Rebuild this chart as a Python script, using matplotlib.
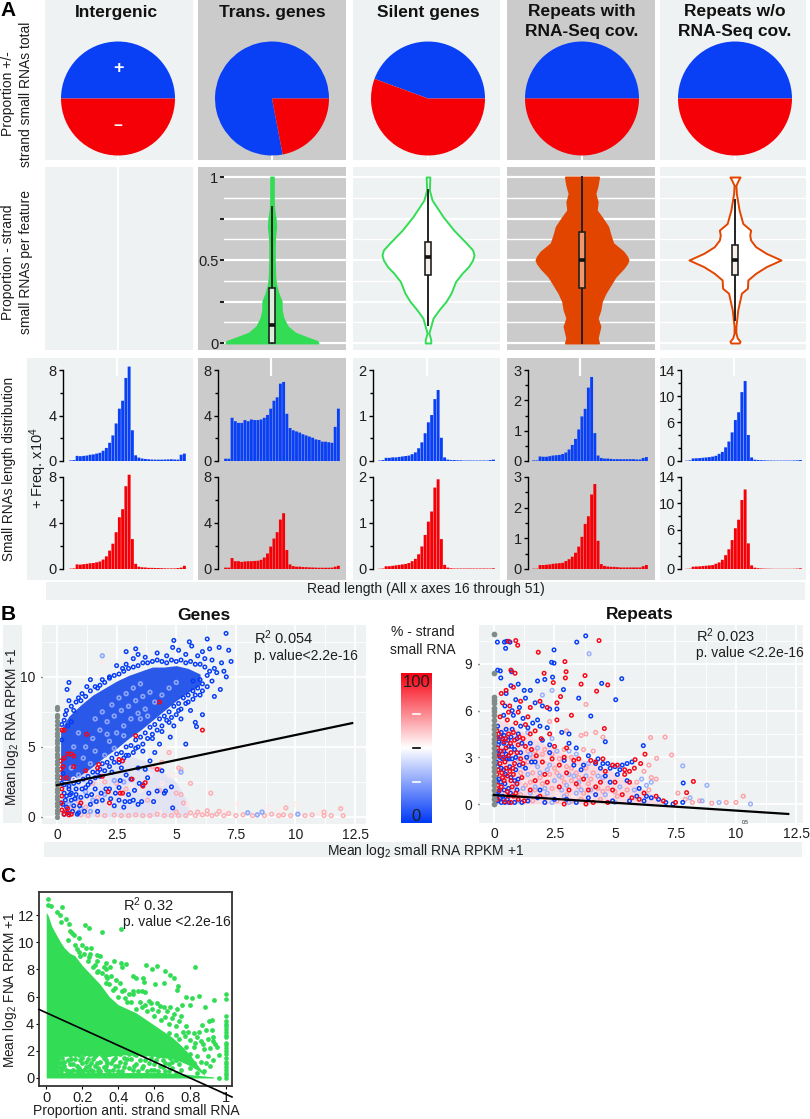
"""
Strand bias of small RNAs: pies, violins, length histograms and RPKM scatters.
All point values are read by eye from the published figure.
"""

import numpy as np
import matplotlib
matplotlib.use("Agg")
import matplotlib.pyplot as plt
from matplotlib.colors import LinearSegmentedColormap

plt.rcParams['font.family'] = ['Liberation Sans', 'DejaVu Sans']
plt.rcParams['mathtext.fontset'] = 'custom'
plt.rcParams['mathtext.rm'] = 'Liberation Sans'
plt.rcParams['mathtext.default'] = 'rm'

W, H = 810, 1119
BLUE, RED = '#0A40F5', '#F40006'
GREEN, ORANGE = '#33DC55', '#E24500'
LIGHT, GREY = '#EFF2F2', '#CBCBCB'
TXT = '#1E1E1E'

features = ['Intergenic', 'Trans. genes', 'Silent genes', 'Repeats with\nRNA-Seq cov.', 'Repeats w/o\nRNA-Seq cov.']
pie_blue = [0.5, 0.78, 0.444, 0.5, 0.5]
pie_red = [0.5, 0.22, 0.556, 0.5, 0.5]

violin_y = {
    1: [0, .01, .03, .06, .1, .15, .2, .25, .3, .35, .4, .5, .6, .65, .7, .75, .8, .85, .9, 1],
    2: [0, .02, .04, .06, .1, .15, .2, .25, .3, .37, .42, .46, .5, .53, .56, .6, .64, .68, .76, .86, .92, 1],
    3: [0, .03, .1, .15, .2, .25, .3, .35, .4, .45, .48, .5, .52, .55, .6, .65, .7, .75, .8, .85, .9, .95, 1],
    4: [0, .01, .03, .06, .1, .2, .3, .33, .38, .42, .46, .5, .54, .58, .62, .65, .68, .72, .8, .9, .95, .98, 1],
}
violin_w = {
    1: [1, .98, .78, .5, .33, .24, .2, .2, .13, .08, .06, .05, .05, .06, .08, .07, .04, .03, .03, .03],
    2: [.06, .06, .04, .02, .06, .11, .24, .39, .5, .6, .74, .88, .97, 1, .97, .84, .7, .56, .33, .09, .03, .04],
    3: [.36, .33, .39, .33, .39, .42, .5, .61, .72, .89, .97, 1, .97, .89, .67, .61, .56, .44, .31, .33, .28, .33, .36],
    4: [.09, .11, .05, .02, .02, .06, .14, .27, .28, .45, .68, 1, .68, .45, .34, .32, .34, .17, .09, .03, .02, .07, .11],
}
violin_box = {1: (0, .11, .33, 0, .82), 2: (.41, .52, .61, .11, .92), 3: (.33, .5, .67, 0, 1), 4: (.41, .5, .59, .14, .86)}

lengths = list(range(16, 52))
plus_freq = [
    [.05, .08, .45, .42, .45, .48, .55, .58, .65, .72, .9, 1.15, 1.6, 2.25, 3.3, 4.6, 5.3, 7.3, 8.3, 2.7, .5, .3, .22, .18, .15, .13, .12, .12, .12, .13, .14, .15, .13, .12, .55, .65],
    [.2, .2, 3.8, 3.5, 3.35, 3.35, 3.6, 3.5, 3.65, 3.6, 3.6, 3.65, 3.8, 4.05, 4.6, 5.3, 5.6, 6.8, 6.95, 4.15, 2.9, 2.7, 2.6, 2.5, 2.35, 2.25, 2.15, 2.05, 1.9, 1.85, 1.7, 1.7, 1.65, 1.6, 3.0, 4.6],
    [.01, .02, .07, .07, .08, .08, .09, .1, .11, .12, .15, .19, .28, .41, .61, .85, 1.01, 1.36, 1.56, .51, .08, .03, .02, .02, .015, .015, .01, .01, .01, .01, .01, .01, .01, .01, .02, .03],
    [.02, .02, .15, .14, .14, .16, .18, .19, .2, .23, .28, .38, .53, .73, 1.04, 1.47, 1.72, 2.42, 2.77, .92, .18, .1, .08, .08, .07, .06, .06, .06, .06, .06, .06, .06, .05, .05, .1, .13],
    [.05, .1, .4, .42, .45, .5, .55, .6, .68, .8, 1.1, 1.4, 2.1, 3.0, 4.4, 6.3, 7.5, 10.6, 12.3, 4.0, .55, .2, .15, .12, .1, .08, .07, .06, .06, .06, .06, .06, .06, .08, .1, .15],
]
minus_freq = [
    [.03, .05, .4, .38, .42, .45, .5, .52, .58, .65, .82, 1.1, 1.6, 2.2, 3.2, 4.5, 5.2, 7.2, 8.2, 2.6, .45, .2, .15, .13, .1, .1, .09, .08, .07, .06, .05, .05, .05, .08, .12, .28],
    [.12, .12, .95, .68, .68, .62, .66, .68, .68, .7, .72, .8, 1.0, 1.35, 1.95, 2.65, 3.2, 4.3, 4.85, 1.65, .4, .25, .2, .2, .17, .16, .14, .13, .12, .11, .11, .11, .11, .12, .2, .28],
    [.005, .01, .06, .06, .07, .08, .09, .1, .11, .13, .17, .22, .32, .49, .74, 1.03, 1.25, 1.77, 1.95, .65, .09, .03, .015, .01, .01, .01, .01, .01, .01, .01, .01, .01, .01, .01, .01, .015],
    [.01, .01, .13, .13, .14, .15, .17, .18, .19, .2, .26, .32, .4, .53, .73, 1.05, 1.47, 1.72, 2.43, 2.77, .92, .16, .1, .08, .07, .07, .06, .05, .05, .05, .05, .05, .05, .05, .09, .13],
    [.03, .05, .35, .38, .4, .45, .5, .55, .6, .8, 1, 1.4, 2.1, 3, 4.4, 6.2, 7.5, 10.5, 12.1, 3.9, .55, .2, .12, .08, .06, .05, .04, .03, .03, .03, .03, .03, .03, .04, .06, .1],
]
hist_max = [8, 8, 2, 3, 14]
hist_major = [[0, 4, 8], [0, 4, 8], [0, 1, 2], [0, 1, 2, 3], [0, 6, 10, 14]]
hist_minor = [[2, 6], [2, 6], [.5, 1.5], [.5, 1.5, 2.5], [2, 4, 8, 12]]

# Genes panel: outlines of the solid clouds, then single points by colour
genes_cloud_x = [.15, .5, 1, 1.5, 2, 2.5, 3, 3.5, 4, 4.5, 5, 5.5, 6]
genes_cloud_hi = [6.2, 7.2, 8, 8.7, 9.2, 9.7, 10.1, 10.4, 10.7, 10.7, 10.8, 10.6, 10.2]
genes_cloud_lo = [2.6, 2.6, 3.0, 3.6, 4.3, 4.9, 5.6, 6.2, 6.9, 7.6, 8.3, 8.9, 9.4]
genes_pale_x = [.15, 1, 2, 3, 4, 5, 5.5]
genes_pale_hi = [2.8, 3.2, 3.8, 4.4, 3.8, 2.5, 1]
genes_pale_lo = [0, 0, 0, 0, 0, 0, 0]
genes_grey_y = [0, .25, .5, .75, 1, 1.25, 1.5, 1.75, 2, 2.25, 2.5, 2.75, 3, 3.25, 3.5, 3.75, 4, 4.25, 4.5, 4.75, 5, 5.25, 5.5, 5.75, 6, 6.25, 6.6, 6.85, 7.1, 7.3, 7.7, 7.85]
genes_blue = [(7.09, 13.1), (6.3, 12.7), (5.55, 12.5), (4.9, 12.6), (3.3, 12), (2.9, 11.8), (7.2, 11.9), (7.3, 11.1), (6.8, 12.1), (6.4, 12), (6.1, 11.8), (5.65, 12.2), (4.85, 12.1), (4.2, 11.7), (7.1, 10), (6.6, 8.6), (6.85, 9.1), (.5, 9.6), (.42, 9.1), (.5, 8.3), (1.4, 9.8), (1.9, 9.8), (2.2, 10), (2.75, 10.6), (1.05, 8.8), (1.25, 9.3), (6.1, 7.3), (5.8, 6.75), (5.85, 6.45), (5.4, 5.2), (4.9, 6.5), (4.7, 6.75), (5.2, 7), (5.6, 7.6), (4.75, 5.7), (4.8, 2.15), (4.5, 1.7), (4.2, 1.85), (4.55, 1.85), (3.2, 1.2), (2.6, 1.2), (4.85, .65), (3.6, 2.3), (6.9, 11), (6.5, 11.2), (6.2, 11.3), (5.9, 11.5), (5.4, 11.6), (5.1, 11.9), (4.6, 11.5), (3.7, 11.4), (3.2, 11.3), (3.4, 11.6), (2.5, 10.8), (2.9, 10.9), (7, 10.4), (6.7, 10.3), (6.5, 9.7), (6.3, 9.3), (6.1, 9), (1.7, 9.2), (.9, 8.5), (.7, 7.6), (.35, 7.3), (1.8, 3.4), (2.3, 3.2), (2.7, 3.5), (2.9, 3), (3.1, 2.7), (3.4, 3.5), (3.7, 3.4), (3.9, 4), (4.1, 4.6), (4.3, 5.2), (4.4, 3.3), (3.8, 2.8), (2.2, 2), (2.6, 2.1), (3, 1.6), (1.9, 1.2), (1.4, .9), (1, 1.4), (.8, 2), (.6, 1.2), (.4, .7), (.3, 1.7), (.5, 2.2), (1.3, 2.3), (1.6, 2), (3.4, .9), (2.4, .8), (2.8, .7), (.9, .3), (1.7, .4), (.3, .2), (3.6, 4.7), (4, 5.6), (4.4, 6.1), (3.3, 4.9), (2.9, 4.4), (5.1, 7.6), (5.4, 8.1), (5.7, 8.4), (6, 8.7), (.2, 2.4), (.25, 3.1), (.18, 1), (.2, 5.5), (.45, 6.5), (.3, 6.9), (.6, 6.8),
              (.3, 2.3), (.5, 2), (.7, 2.4), (.9, 2.5), (1.1, 2.7), (1.3, 2.9), (1.5, 3.2), (1.7, 3.2), (1.9, 3.8), (2.1, 3.9), (2.3, 4.2), (2.5, 4.5), (2.7, 4.6), (2.9, 5), (3.1, 5.1), (3.3, 5.5), (3.5, 5.7), (3.7, 6), (3.9, 6.4), (4.1, 6.6), (4.3, 7), (4.5, 7.2), (4.7, 7.5), (4.9, 7.9), (5.1, 8.1), (5.3, 8.5), (5.5, 8.7), (5.7, 9), (5.9, 9.2), (6.1, 9.5),
              (.4, 1.5), (.6, 1.7), (.8, 1.6), (1.2, 2.1), (1.4, 2.5), (1.6, 2.8), (1.8, 2.9), (2, 3.3), (2.2, 3.6), (2.4, 3.9), (2.6, 3.9), (2.8, 4.2), (3, 4.4), (3.2, 4.6), (3.4, 5), (3.6, 5.2), (3.8, 5.6), (4, 5.9), (4.2, 6.2), (4.4, 6.5), (4.6, 6.9), (4.8, 7.1), (5, 7.3), (5.2, 7.7), (5.5, 8.2), (5.8, 8.7),
              (.2, 6.6), (.4, 7.6), (.6, 7.9), (.8, 8.2), (1, 8.3), (1.2, 8.6), (1.4, 9), (1.6, 9.3), (1.8, 9.4), (2, 9.6), (2.2, 9.9), (2.4, 10.1), (2.6, 10.2), (2.8, 10.4), (3, 10.6), (3.2, 10.7), (3.4, 10.8), (3.6, 11), (3.8, 11), (4, 11.1), (4.2, 11.2), (4.4, 11.1), (4.6, 11), (4.8, 11.2), (5, 11.1), (5.2, 11.2), (5.4, 11), (5.6, 11.1), (5.8, 10.9), (6, 10.9), (6.2, 10.7), (6.4, 10.4), (6.6, 10.6), (6.3, 10.1), (6, 9.8), (5.7, 9.7),
              (.25, .9), (.35, 1.2), (.55, 1.6), (.7, .8), (.95, .8), (1.15, .4), (1.25, 1.5), (1.45, 1.6), (1.65, 1.1), (1.85, 1.7), (2.05, 2), (2.25, 1.3), (2.45, 1.7), (2.65, 2.6), (2.85, 1.1), (3.05, 1.1), (3.25, 1.9), (3.45, 2.4), (3.55, 1.1), (3.85, 1.7), (4.05, 1.1), (1.05, 2), (.75, 1.3), (.45, .3), (.65, .4), (.85, .2)]
genes_lblue = [(1.9, 11.5), (1.2, 5), (1.5, 5.6), (1.8, 6.2), (2.1, 6.8), (2.4, 7.2), (2.7, 7.6), (3, 7.9), (3.3, 8.3), (3.6, 8.6), (3.9, 8.9), (2.2, 5.4), (2.5, 6), (2.8, 6.5), (3.1, 7), (3.4, 7.4), (3.7, 7.7), (1.6, 7), (1.9, 7.5), (2.3, 8), (2.6, 8.5), (2.9, 8.8), (3.2, 9.2), (3.5, 9.5), (4.1, 8.2), (4.4, 8.7), (4.7, 9.2), (5, 9.6), (.9, 6), (.7, 5), (1.1, 4.2), (1.4, 3.8), (.6, 3.5), (.9, 3), (1.6, 4.7), (2, 4.4), (2.4, 4.9), (.8, 1.3), (1.2, 1.8), (1.5, 1.2), (2, 1.6), (2.4, 2.6), (2.8, 2.5), (.5, .9), (1, .6), (1.4, .4), (5.2, 3.2), (8, .3), (8.6, .35), (10.1, .2), (8.4, .15), (3.5, 7), (3.8, 7.2), (2.8, 5.8), (2.1, 5.9)]
genes_white = [(1.9, 11.05), (4.5, 4.9), (4.7, 4.5), (3.9, 3), (3.5, 1.9), (3.1, 2.2), (2.7, 1.4), (4.4, 2.4), (4.7, 3), (5, 3), (1.1, 2.2), (1.4, 2.7), (1.8, 2.6), (.7, 2.7), (.9, 1.9), (1.3, 1.2), (1.7, .8), (2.2, .9), (8.8, .7), (10, .9), (7.6, .9), (5.5, .9), (4.3, .3), (6, .2), (7, .4), (9.3, .5), (11, .3)]
genes_red = [(6.1, 6.2), (.2, 6.2), (.3, 6.2), (4.3, 8.2), (.45, 4.5), (.6, 4.5), (.7, 4.35), (.3, 4.2), (1.25, 5.9), (2.6, 4.1), (2.75, 4), (.25, 3.6), (.4, 2.8), (.7, 3.6), (1.2, 3.3), (1.75, 3.75), (1.7, 3.5), (3.3, 5.8), (3.15, 2.7), (3.7, 2.45), (3.6, 2.2), (2.75, 1.7), (2.15, 1.8), (2.65, 1.7), (4.2, 3.4), (.15, 3.4), (.15, 2.8), (.2, 2), (.2, 1.5), (.18, 1), (.2, .5), (.3, .2), (.4, .4), (.5, .15), (.45, .6), (.6, .2), (.15, 4), (1.9, 2.9), (1, 1), (2.2, 1)]
genes_pink = [(4.4, 3.9), (4.7, 4.6), (5.6, 2.4), (5, 1.7), (5.2, 1.6), (5.3, 1), (6.45, 1.7), (4.3, 1.9), (3.8, 1.2), (4, 3.6), (4.3, 3.4), (5.1, 3.5), (5.2, 3.4), (2, 2.5), (2.5, 2.4), (2.9, 2), (1.5, 2.4), (.9, 1.1), (1.2, .7), (1.7, 1.4), (.7, .6), (1, .15), (1.3, .1), (1.7, .15), (2, .1), (2.4, .15), (2.7, .1), (3, .1), (3.3, .15), (3.6, .1), (3.9, .1), (4.2, .2), (4.5, .1), (4.8, .1), (5, .35), (5.1, .1), (5.4, .1), (5.6, .3), (5.8, .1), (5.9, .35), (6.1, .15), (6.3, .2), (6.3, .45), (6.5, .1), (6.7, .2), (6.8, .4), (7, .1), (7.2, .25), (7.5, .1), (7.8, .15), (8.2, .1), (8.7, .1), (9, .2), (9.3, .1), (9.6, .65), (9.5, .15), (9.8, .1), (10.4, .1), (10.7, .15), (11.2, .1), (11.2, .35), (11.9, .6), (11.5, .1), (12, .1)]
genes_line_x = [0, 12.38]
genes_line_y = [2.27, 6.7]

# Repeats panel
rep_cloud_x = [.1, .5, 1, 2, 3, 4, 5, 5.5, 6, 6.5, 7]
rep_cloud_hi = [5.4, 5.3, 4.8, 3.9, 3.2, 2.7, 2, 1.6, 1.1, .7, .2]
rep_cloud_lo = [0, 0, 0, 0, 0, 0, 0, 0, 0, 0, 0]
rep_grey_y = [0, .3, .6, .9, 1.2, 1.5, 1.8, 2.1, 2.4, 2.7, 3, 3.3, 3.6, 3.9, 4.2, 4.5, 4.8, 5.1, 5.4, 5.7, 6, 6.2, 6.5, 6.7, 6.9, 8.4, 10.95]
rep_blue = [(.14, 10.4), (.43, 10.4), (.52, 10.45), (.66, 10.4), (.48, 10), (3.42, 10.4), (3.79, 10.8), (2.48, 9.9), (2.38, 9.1), (2.48, 9.05), (.15, 8.6), (.26, 8.55), (.28, 8.1), (.73, 8.5), (5.28, 8.05), (4.45, 7.75), (5.03, 6.7), (1.8, 7.9), (2.1, 8), (2.42, 8.15), (2.87, 7.35), (3.5, 6.8), (4, 5.65), (4.6, 4), (6.17, 3.75), (7.82, 1.35), (.5, 7.1), (.7, 7.6), (1, 7.7), (1.25, 7.3), (1.5, 7.3), (.9, 6.7), (1.3, 6.8), (1.7, 6.5), (2, 6.3), (2.3, 6.1), (2.6, 6.1), (.4, 5.7), (.8, 5.7), (1.2, 5.5), (1.6, 5.2), (1.9, 5), (2.2, 4.9), (2.8, 4.6), (3.1, 4.5), (.15, 5), (.3, 4.6), (.5, 4.8), (.7, 4.3), (1, 4.5), (.2, 4), (.4, 3.9), (.6, 3.7), (.85, 3.5), (1.1, 3.3), (.2, 3.2), (.35, 2.9), (.5, 3.2), (.75, 2.9), (.15, 2.4), (.4, 2.2), (.65, 2.4), (.9, 2.2), (.2, 1.6), (.45, 1.3), (.7, 1.7), (1, 1.6), (1.3, 2.3), (.2, .8), (.35, .5), (.55, .3), (.15, .2), (.3, .1), (.45, .1), (.6, 1), (2.3, 3.3), (2.9, 2.8), (3.3, 2.5), (3.6, 2.2), (3.7, 2.5), (3.9, 3.1), (4.3, 2.9), (4.5, 2.6), (4.7, 2.6), (4.4, 2.3), (4.8, 2.3), (5, 2.4), (5.2, 2.2), (5.3, 2.5), (5.5, 2.6), (5.7, 2.7), (5.1, 1.9), (4.8, 1.4), (5.5, 1.5), (6, 1), (6.3, .5), (6.5, .4), (7.1, .1), (7.4, 0), (2.5, .3), (3.4, .1), (1.8, .4), (4.2, .6), (5.6, .2), (7.8, .1), (1.5, 3.9), (1.7, 2.7),
            (.1, 4.3), (.18, 3.8), (.28, 4.3), (.42, 4.4), (.58, 4.1), (.75, 4.8), (.95, 4.2), (.12, 3.3), (.25, 3), (.4, 3.4), (.55, 2.9), (.72, 3.7), (.9, 3), (1.05, 2.5), (.1, 2.7), (.3, 2.3), (.48, 1.9), (.62, 2.9), (.85, 1.5), (.1, 1.5), (.28, 1.4), (.42, .9), (.68, .7), (.95, .9), (.12, .6), (.25, .4), (.4, .3), (.62, .1), (.85, .1), (1.15, .1), (1.4, .2), (1.15, 3.9), (1.35, 3), (1.55, 2.7), (1.4, 4.9), (1.8, 5.4), (1.1, 5), (2, 4.1), (2.3, 3.8), (1.9, .9), (2.1, .1), (3, .3), (3.9, .4), (4.9, .2), (5.9, .5), (6.2, .2), (6.8, .3), (4.6, 1.8), (4.2, 2.6), (3.4, 3.6), (3.1, 3.9), (1.05, 6.2), (.75, 6), (.45, 6.3)]
rep_red = [(.6, 10.45), (.9, 10.5), (.98, 10.2), (1.83, 9.75), (2.93, 9.15), (4.34, 10.5), (2.07, 8.4), (2.45, 7.8), (2.98, 8.5), (2.95, 8.1), (3.76, 8.25), (3.6, 7.7), (4.24, 7.25), (4.7, 7.65), (.7, 8.6), (.87, 8.4), (.8, 7.5), (3.2, 5.7), (4.56, 4.85), (6.24, 3.2), (5.83, 2.85), (6.06, 2.6), (8.24, 1.45), (7.96, .73), (.5, 7.3), (.3, 7.1), (.35, 6.5), (.65, 6.3), (1.1, 6.6), (1.5, 6.2), (1.9, 6.6), (2.2, 6.2), (2.6, 6.5), (2.75, 6.9), (.25, 5.6), (.55, 5.4), (.9, 5.2), (1.3, 5.1), (1.7, 4.7), (2.6, 5.4), (.12, 4.7), (.35, 4.2), (.6, 4.5), (.85, 4.1), (1.2, 4.2), (1.5, 4.5), (.15, 3.6), (.3, 3.4), (.5, 3.6), (.7, 3.3), (1, 3.8), (.25, 2.6), (.45, 2.7), (.65, 2.1), (.85, 2.6), (1.2, 2.6), (.12, 1.9), (.35, 1.7), (.55, 1.8), (.8, 1.9), (.15, 1.2), (.3, 1.1), (.55, .8), (.8, .5), (1, .3), (3.5, 2.9), (4, 2.8), (4.2, 2.7), (4.5, 2.9), (4.9, 2.5), (5.1, 2.5), (5.6, 2.1), (5.8, 2.3), (5.4, 1.9), (5.6, 1.4), (5, 1.4), (4.4, 1.4), (4.9, .9), (5.3, .6), (5.7, .4), (6, .3), (6.2, .7), (6.7, .5), (7, .2), (7.5, .1), (2.9, 0), (3.8, 0), (4.7, .1), (2.1, 1.9), (2.7, 2.5), (3, 2), (1.7, 1.5), (1.9, .5), (3.7, 1.6),
           (.1, 4.2), (.2, 4.5), (.42, 4), (.5, 4.2), (.68, 3.9), (.8, 4.6), (1.05, 4.3), (.18, 3.1), (.38, 3), (.6, 3.1), (.78, 2.3), (.95, 3.3), (1.1, 2.9), (.18, 2.2), (.32, 2), (.5, 2.3), (.7, 1.5), (.95, 1.3), (1.15, 1.7), (.22, .9), (.42, 1.5), (.6, .5), (.75, 1.1), (.9, .7), (.15, .3), (.45, .15), (.7, .1), (1.25, .2), (1.3, 3.7), (1.55, 3.5), (1.75, 3.1), (1.4, 5.6), (1, 5.9), (.6, 5.9), (1.95, 4.2), (2.3, 4.5), (2.5, 3.7), (3, 3.6), (2.9, 3), (3.3, 2.8), (2.4, 2.9), (2, 2.7), (2.2, 1.4), (1.5, .9), (2.7, 1.1), (3.4, 1.3), (3.1, .9), (3.9, .9), (4.2, 1.1), (4.6, 2.1), (5.4, 2.2), (4.1, .1)]
rep_lblue = [(7.8, 2.45), (8.8, 1.2), (3.93, 9.65), (8.1, .4), (8.6, .2), (9.3, .1), (10.6, 0), (2.4, 7.3), (2, 7), (1.4, 4.6), (1.8, 3.6), (2.4, 4.2), (2.6, 3.4), (3.1, 3.4), (3.4, 3.2), (1, 2.9), (1.4, 1.9), (1.8, 2.4), (2.2, 2.2), (2.5, 1.5), (3, 1.2), (3.3, 1.8), (3.8, 1.8), (4, .9), (4.3, 1.8), (1.2, 1), (1.5, .7), (2.2, .7), (2.8, .9), (3.4, .7), (4.6, .6), (6.1, 1.6), (6.5, 1.4), (.9, 1.2),
             (1.2, 2.4), (1.5, 3.2), (1.9, 2), (2.3, 2.5), (2.7, 1.8), (3.1, 1.9), (3.5, 1.4), (3.9, 2.6), (1.7, 1.1), (2.1, 1), (2.9, .5), (3.6, .9), (4.5, 1.7), (5.2, 1.1), (5.8, .9), (6.3, 1.2), (1, .2), (2.4, .1), (3.1, .1), (5, .1)]
rep_pink = [(3.8, 6.4), (7.07, 4.3), (7.34, 3.15), (6.72, 2.93), (6.47, 4.27), (4.2, 4.6), (3.6, 4.4), (3.8, 4.5), (4.5, 4.3), (3, 4.7), (2.3, 5.3), (3.7, 3.5), (4.1, 3.4), (3.2, 3), (2.9, 3.5), (2, 3.2), (1.6, 3), (1.4, 3.4), (1.1, 2), (1.5, 1.4), (2, 1.3), (2.5, 2.3), (2.8, 1.7), (3.2, 1.5), (3.5, 1.1), (3.9, 1.3), (4.1, 2), (4.7, 1), (1.3, .4), (1.7, .9), (2.4, 1), (3, .6), (3.6, .3), (4.4, .3), (5.1, .5), (6.7, 1.6), (6.4, 2.5), (6.5, 1.7), (6.2, 2.1), (7.6, .7), (8.5, .2), (9, .05), (9.6, .1), (10, .1), (10.3, .5), (7.9, .3), (8.2, .1),
            (1.3, 1.2), (1.6, 2), (1.9, 1.7), (2.3, 1.9), (2.6, 2), (2.9, 1.4), (3.2, 2.3), (3.5, 1.7), (3.8, 2.3), (4, 1.6), (1.4, 2.7), (1.7, 3.4), (2.1, 3.5), (2.4, 3.2), (2.7, 2.9), (3, 2.4), (3.4, 2), (1.1, .6), (1.6, .2), (2.1, .4), (2.6, .2), (3.2, .2), (3.7, .7), (4.3, 1), (4.5, .8), (5, .8), (5.5, .9), (5.9, 1.4), (6.4, .9)]
rep_white = [(.12, 2.5), (.8, 3), (1.6, 2.2), (2.2, 2.9), (2.6, 2.8), (3.4, 2.3), (3, 2.6), (2.2, 1.7), (2.6, .6), (1.3, 1.4), (3.3, .4), (4, .4), (4.8, .5)]
rep_line_x = [0, 12.16]
rep_line_y = [.58, -.64]

# Panel C: solid part of the cloud, then single points
c_cloud_x = [0, .01, .03, .05, .08, .1, .13, .16, .2, .25, .3, .35, .4, .5, .6, .7, .75, .8, .85, .88]
c_cloud_hi = [12.2, 12, 11.2, 10.7, 10, 9.6, 9.2, 9, 8.3, 7.6, 6.9, 6, 5.4, 4.8, 3.9, 3, 2.4, 1.7, .8, .3]
c_cloud_lo = [0, 0, 0, 0, 1.6, 1.6, 1.7, 1.6, 1.7, 1.6, 1.7, 1.6, 1.7, 1.7, 1.6, 1.4, 1.2, .9, .5, .2]
c_strip_x = [.05, .65, .7, .8, .88, .93]
c_strip_hi = [.4, .4, .35, .25, .15, .08]
c_strip_lo = [0, 0, 0, 0, 0, 0]
c_points = [(.01, 13.2), (.01, 12.75), (.025, 12.65), (.09, 12.6), (.06, 12.25), (.075, 12), (.11, 11.7), (.085, 11.5), (.125, 11.35), (.215, 11.25), (.24, 11.05), (.31, 10.75), (.415, 11), (.13, 10.8), (.145, 10.7), (.185, 10.3), (.155, 10.5), (.22, 9.6), (.25, 9.6), (.285, 9.05), (.3, 9), (.245, 9.1), (.375, 8.6), (.335, 8.5), (.415, 8.5), (.445, 8.4), (.555, 8.35), (.615, 8.25), (.825, 8.2), (.42, 8.15), (.355, 8.2), (.59, 8), (.66, 7.9), (.69, 7.55), (.71, 7.35), (.485, 7.5), (.5, 7.35), (.54, 7.35), (.545, 7.1), (.605, 6.95), (.655, 7), (.735, 6.8), (.73, 6.5), (.485, 6.4), (.51, 6.4), (.53, 6.4), (.55, 6.3), (.43, 6.45), (.775, 6), (.81, 5.9), (.85, 6.05), (.935, 5.75), (.8, 5.4), (.885, 5.2), (.755, 5.35), (.615, 5.5), (.655, 5.25), (.58, 5.5), (.69, 5.25), (.73, 5.1), (.92, 4.3), (.905, 4.2), (.865, 3.9), (.96, 0), (.95, 2.3), (.96, 1.7), (.93, 2.7), (.89, 3.5), (.92, 3.5), (.93, 3), (.84, 3), (.86, 2.7), (.8, 2.8), (.82, 2.3), (.78, 2.3), (.8, 1.8), (.84, 1.6), (.88, 2.1), (.9, 1.6), (.93, 1.35), (.76, 3.4), (.78, 3.8), (.72, 3.8), (.68, 4), (.64, 4.3), (.6, 4.6), (.56, 4.9), (.5, 5.1), (.45, 5.6), (.4, 6), (.38, 6.6), (.33, 7), (.33, 7.5), (.33, 8), (.28, 7.8), (.27, 8.3), (.23, 8.6), (.19, 9), (.17, 9.5), (.2, 9.8), (.72, 3.2), (.74, 2.9), (.68, 3.3), (.7, 1.2), (.74, 1), (.8, .7), (.84, .4), (.88, .5),
            (.07, .8), (.07, 1.2), (.08, .5), (.09, 1.5), (.1, .9), (.11, .6), (.12, 1.3), (.13, 1.7), (.14, .5), (.15, 1), (.16, 1.4), (.18, .7), (.18, 1.7), (.2, .5), (.2, 1.1), (.2, 1.5), (.22, .8), (.23, 1.4), (.24, 1.8), (.25, .6), (.25, 1.1), (.27, .9), (.27, 1.6), (.29, .5), (.3, 1.2), (.31, 1.7), (.33, .6), (.33, .9), (.33, 1.3), (.33, 1.7), (.35, .5), (.36, 1.1), (.38, .9), (.38, 1.5), (.4, .5), (.41, 1.2), (.41, 1.8), (.43, .8), (.45, 1.4), (.46, 1.8), (.48, .6), (.5, 1), (.5, 1.7), (.53, .7), (.55, 1.3), (.55, 1.8), (.58, .6), (.58, 1.5), (.6, 1), (.62, .5), (.62, 1.6), (.65, .8), (.65, 1.3), (.68, .5), (.68, 1),
            (.06, 1.7), (.06, .5), (.08, 1.1), (.09, .7), (.1, 1.2), (.11, 1.8), (.12, .5), (.13, 1), (.14, 1.4), (.15, .6), (.16, 1.8), (.17, .9), (.17, .5), (.19, 1.3), (.19, .5), (.21, 1.8), (.21, .6), (.22, 1.2), (.23, .5), (.24, .9), (.26, 1.4), (.26, .5), (.28, 1.1), (.28, 1.8), (.29, .7), (.3, .5), (.32, .8), (.32, 1.5), (.34, 1.1), (.35, 1.8), (.37, .6), (.37, 1.3), (.39, 1.8), (.4, .9), (.42, .5), (.43, 1.5), (.44, 1.1), (.46, .7), (.47, 1.4), (.49, .9), (.49, 1.8), (.51, .5), (.52, 1.3), (.53, 1.8), (.54, .9), (.56, .5), (.57, 1.1), (.59, 1.8), (.6, .6), (.61, 1.3), (.63, .9), (.64, 1.7), (.66, .5), (.66, 1.1), (.69, 1.5), (.7, .7), (.72, .4), (.72, 1.3), (.75, .6),
            (.12, 10.2), (.16, 9.8), (.18, 9.3), (.21, 9.1), (.24, 8.9), (.26, 8.2), (.28, 8.6), (.29, 7.9), (.31, 7.7), (.32, 8.2), (.34, 7.4), (.35, 6.9), (.36, 7.5), (.37, 6.5), (.39, 7.2), (.41, 7), (.42, 6.4), (.44, 5.9), (.46, 6.2), (.47, 5.6), (.48, 6.2), (.52, 5.6), (.53, 5.2), (.55, 5.4), (.57, 5.7), (.59, 5.1), (.62, 4.9), (.63, 5.3), (.66, 4.5), (.67, 4.9), (.7, 4.4), (.71, 4.7), (.74, 4.2), (.75, 4.6), (.77, 3.1), (.79, 3.4), (.82, 3.3), (.83, 2.6), (.85, 3.4), (.87, 2.5), (.9, 2.9), (.91, 2.2), (.94, 2.5), (.86, 1.2), (.89, 1.1), (.91, .9), (.82, 1.1)]
c_one_y = [0, .2, .4, .6, .8, 1, 1.2, 1.5, 1.8, 2, 2.2, 2.4, 2.6, 3, 3.2, 3.4, 3.6, 3.8, 4, 4.2, 4.6, 5.85, 6.2]
c_line_x = [-.04, 1.033]
c_line_y = [5.05, -1.4]

pct_cmap = LinearSegmentedColormap.from_list('pct', ['#0038F8', '#FFFFFF', '#F80010'])


def px_axes(x0, y0, x1, y1, **kw):
    return fig.add_axes([x0 / W, 1 - y1 / H, (x1 - x0) / W, (y1 - y0) / H], **kw)


def box(x0, y0, x1, y1, color):
    ax = px_axes(x0, y0, x1, y1, facecolor=color)
    ax.set_xticks([])
    ax.set_yticks([])
    for s in ax.spines.values():
        s.set_visible(False)
    return ax


def label(x, y, s, **kw):
    kw.setdefault('ha', 'center')
    kw.setdefault('va', 'center')
    kw.setdefault('color', TXT)
    kw.setdefault('fontsize', 10)
    fig.text(x / W, 1 - y / H, s, **kw)


def rings(ax, pts, pct, s=6.5, lw=1.05, z=3):
    x, y = np.array(pts).T
    ax.scatter(x, y, s=s, facecolors='none', edgecolors=pct_cmap(pct / 100), linewidths=lw, zorder=z)


def scatter_axes(x0, y0, x1, y1, xlim, ylim, ymajor, yminor):
    ax = px_axes(x0, y0, x1, y1, facecolor=LIGHT)
    ax.set_xlim(xlim)
    ax.set_ylim(ylim)
    ax.set_xticks([0, 2.5, 5, 7.5, 10, 12.5], ['0', '2.5', '5', '7.5', '10', '12.5'])
    ax.set_xticks([1.25, 3.75, 6.25, 8.75, 11.25], minor=True)
    ax.set_yticks(ymajor, [str(v) for v in ymajor])
    ax.set_yticks(yminor, minor=True)
    ax.grid(True, which='major', color='white', lw=1.3)
    ax.grid(True, which='minor', color='white', lw=.6)
    ax.set_axisbelow(True)
    ax.tick_params(which='both', length=0)
    ax.tick_params(which='major', axis='x', labelsize=10, colors=TXT, pad=3)
    ax.tick_params(which='major', axis='y', labelsize=10, colors=TXT, pad=4, length=1, width=1)
    for s in ax.spines.values():
        s.set_visible(False)
    return ax


fig = plt.figure(figsize=(W / 100, H / 100), dpi=100, facecolor='white')

col_x = [(45, 193), (198, 346), (353, 500), (507, 655), (660, 806)]
col_bg = [LIGHT, GREY, LIGHT, GREY, LIGHT]
col_cx = [118, 272, 428, 582, 735]
hist_axis_x = [63, 218, 373, 528, 681]
hist_bars = [(69, 186), (224, 340), (378, 495), (532, 648), (685, 802)]

for i in range(5):
    x0, x1 = col_x[i]
    cx = col_cx[i]

    # row 1: pies
    top = box(x0, 0, x1, 160, col_bg[i])
    top.set_xlim(x0, x1)
    top.set_ylim(160, 0)
    top.plot([cx, cx], [156, 160], color='white', lw=1.5)
    pie_ax = px_axes(cx - 57, 41, cx + 57, 156)
    pie_ax.pie([pie_blue[i], pie_red[i]], colors=[BLUE, RED], startangle=0, radius=1)
    pie_ax.set_xlim(-1, 1)
    pie_ax.set_ylim(-1, 1)
    label(cx if i else 116, 21.5 if '\n' in features[i] else 12, features[i], fontweight='bold', fontsize=12.5, linespacing=1.45, color='#111111')

    # row 2: violins
    bg = box(x0, 167, x1, 350, col_bg[i])
    left = 224 if i == 1 else x0
    vax = px_axes(left, 167, x1, 350)
    vax.patch.set_alpha(0)
    vax.set_xlim((left - cx) / 46, (x1 - cx) / 46)
    vax.set_ylim(-7 / 166, 1 + 10 / 166)
    for s in vax.spines.values():
        s.set_visible(False)
    vax.set_xticks([])
    vax.set_yticks([0, .5, 1] if i == 1 else [])
    if i == 1:
        vax.set_yticklabels(['0', '0.5', '1'], fontsize=10.5, color=TXT)
        vax.set_yticks([.25, .75], minor=True)
        vax.tick_params(axis='y', which='major', length=3, width=1.2, pad=1)
        vax.tick_params(axis='y', which='minor', length=3, width=1.2)
    if i == 0:
        vax.axvline(0, color='white', lw=1.5)
    else:
        for g in np.arange(0, 1.01, .125):
            vax.axhline(g, color='white', lw=1.6 if g % .25 == 0 else 1, zorder=1)
        vy = np.array(violin_y[i])
        vw = np.array(violin_w[i])
        if i in (1, 3):
            face, edge = (GREEN, GREEN) if i == 1 else (ORANGE, ORANGE)
        else:
            face, edge = ('white', GREEN) if i == 2 else ('white', ORANGE)
        vax.fill_betweenx(vy, -vw, vw, facecolor=face, edgecolor=edge, lw=1.4, zorder=2)
        q1, med, q3, lo, hi = violin_box[i]
        vax.plot([0, 0], [lo, hi], color='#222222', lw=1.4, zorder=3)
        box_face = {1: '#DDEEDD', 2: '#F4EFE8', 3: '#F2966C', 4: '#F4EFE8'}[i]
        vax.bar(0, q3 - q1, bottom=q1, width=.11, facecolor=box_face, edgecolor='#222222', lw=1.2, zorder=4)
        vax.plot([-.055, .055], [med, med], color='#111111', lw=2.6, solid_capstyle='butt', zorder=5)

    # row 3: histograms
    bg3 = box(x0, 358, x1, 580, col_bg[i])
    bg3.set_xlim(x0, x1)
    bg3.set_ylim(580, 358)
    bg3.plot([cx - 1.5, cx - 1.5], [358, 375], color='white', lw=1.6)
    ax_x = hist_axis_x[i]
    b0, b1 = hist_bars[i]
    per_bar = (b1 - b0) / 36
    for vals, color, y_top, y_bot in ((plus_freq[i], BLUE, 370, 461), (minus_freq[i], RED, 477, 569)):
        hax = px_axes(ax_x, y_top, b1 + 1, y_bot)
        hax.patch.set_alpha(0)
        hax.set_xlim(15.5 - (b0 - ax_x) / per_bar, 51.5 + 1 / per_bar)
        hax.set_ylim(0, hist_max[i])
        bars = hax.bar(lengths, vals, width=.9, color=color, clip_on=False, zorder=3)
        for b in bars:
            b.set_snap(False)
        for s in ('top', 'right', 'bottom'):
            hax.spines[s].set_visible(False)
        hax.spines['left'].set_linewidth(1)
        hax.set_xticks([])
        hax.set_yticks(hist_major[i], [str(v) for v in hist_major[i]])
        hax.set_yticks(hist_minor[i], minor=True)
        hax.tick_params(axis='y', which='major', length=3, width=1, labelsize=10.5, pad=1.5, labelcolor=TXT)
        hax.tick_params(axis='y', which='minor', length=2, width=1)

# white + and - on the first pie
label(118, 69, '+', color='white', fontweight='bold', fontsize=13)
label(118, 126, '\u2212', color='white', fontweight='bold', fontsize=11)

box(27, 358, 45, 580, LIGHT)
box(46, 582, 805, 600, LIGHT)

label(8, 10, 'A', fontweight='bold', fontsize=15, color='black')
label(8, 615, 'B', fontweight='bold', fontsize=15, color='black')
label(8, 877, 'C', fontweight='bold', fontsize=15, color='black')
label(17, 94, 'Proportion +/-\nstrand small RNAs total', rotation=90, linespacing=1.3)
label(17, 262, 'Proportion - strand\nsmall RNAs per feature', rotation=90, linespacing=1.3)
label(9, 469, 'Small RNAs length distribution', rotation=90, fontsize=9.8)
label(38, 468, '+ Freq. x10$^{4}$', rotation=90, fontsize=10.5)
label(426, 589, 'Read length (All x axes 16 through 51)', fontsize=10)

# panel B genes
box(3, 625, 22, 823, LIGHT)
box(44, 842, 802, 857, LIGHT)
ga = scatter_axes(42, 625, 366, 824, (-.63, 12.96), (-.5, 13.7), [0, 5, 10], [2.5, 7.5, 12.5])
ga.fill_between(genes_pale_x, genes_pale_lo, genes_pale_hi, color='#E2E4F4', lw=0, zorder=2)
ga.fill_between(genes_cloud_x, genes_cloud_lo, genes_cloud_hi, color='#2A58E8', lw=0, zorder=2)
ga.scatter(np.zeros(len(genes_grey_y)), genes_grey_y, s=14, color='#7F8C88', zorder=6, lw=0)
rings(ga, genes_white, 54, s=8)
rings(ga, genes_pink, 66, s=7)
rings(ga, genes_lblue, 28, s=7, lw=1.2)
rings(ga, genes_blue, 1, z=4)
rings(ga, genes_red, 99, z=5)
ga.plot(genes_line_x, genes_line_y, color='black', lw=1.6, zorder=7)

# panel B repeats
ra = scatter_axes(479, 625, 803, 823, (-.62, 12.77), (-1.22, 11.5), [0, 3, 6, 9], [1.5, 4.5, 7.5, 10.5])
ra.fill_between(rep_cloud_x, rep_cloud_lo, rep_cloud_hi, color='#F6DCE2', lw=0, zorder=2)
ra.scatter(np.zeros(len(rep_grey_y)), rep_grey_y, s=17, color='#7F8C88', zorder=6, lw=0)
rings(ra, rep_white, 54, s=8)
rings(ra, rep_pink, 68, s=7)
rings(ra, rep_lblue, 30, s=7)
rings(ra, rep_blue, 1, z=4)
rings(ra, rep_red, 99, z=5)
ra.plot(rep_line_x, rep_line_y, color='black', lw=1.6, zorder=7)
ra.text(10.4, -1.16, '0.5', fontsize=3.5, ha='center', va='center', color=TXT)

label(204, 615, 'Genes', fontweight='bold', fontsize=12.5, color='#111111')
label(640, 615, 'Repeats', fontweight='bold', fontsize=12.5, color='#111111')
label(12, 727, 'Mean log$_{2}$ RNA RPKM +1', rotation=90, fontsize=9.8)
label(426, 851, 'Mean log$_{2}$ small RNA RPKM +1', fontsize=10)
label(254, 638, 'R$^{2}$ 0.054', ha='left', fontsize=10.5)
label(254, 656, 'p. value<2.2e-16', ha='left')
label(696, 636, 'R$^{2}$ 0.023', ha='left', fontsize=10.5)
label(696, 653, 'p. value <2.2e-16', ha='left')

# legend bar
label(423, 641, '% - strand\nsmall RNA', fontsize=10, linespacing=1.3)
cb = px_axes(401, 673, 432, 823)
cb.imshow(np.linspace(1, 0, 256).reshape(-1, 1), aspect='auto', cmap=pct_cmap, extent=(0, 1, -5, 105))
cb.set_xticks([])
cb.set_yticks([])
for s in cb.spines.values():
    s.set_visible(False)
for v, c in ((25, 'white'), (50, 'black'), (75, 'white')):
    cb.plot([.38, .62], [v, v], color=c, lw=1.2)
cb.set_xlim(0, 1)
cb.set_ylim(-5, 105)
cb.text(.5, 98, '100', ha='center', va='center', fontsize=12, color=TXT)
cb.text(.5, 0, '0', ha='center', va='center', fontsize=12, color=TXT)

# panel C
ca = px_axes(39, 892, 232, 1086)
ca.set_xlim(-.04, 1.033)
ca.set_ylim(-.59, 13.7)
ca.fill_between(c_cloud_x, c_cloud_lo, c_cloud_hi, color=GREEN, lw=0, zorder=2)
ca.fill_between(c_strip_x, c_strip_lo, c_strip_hi, color=GREEN, lw=0, zorder=2)
cx_pts, cy_pts = np.array(c_points).T
ca.scatter(cx_pts, cy_pts, s=12, color=GREEN, lw=0, zorder=3)
ca.scatter(np.ones(len(c_one_y)), c_one_y, s=11, color=GREEN, lw=0, zorder=3)
ca.plot(c_line_x, c_line_y, color='black', lw=1.2, clip_on=False, zorder=6)
ca.set_xticks([0, .2, .4, .6, .8, 1], ['0', '0.2', '0.4', '0.6', '0.8', '1'])
ca.set_yticks([0, 2, 4, 6, 8, 10, 12])
ca.tick_params(axis='both', labelsize=10.5, length=2, width=.8, pad=1.5, labelcolor=TXT)
for s in ca.spines.values():
    s.set_linewidth(1.3)
    s.set_color('#333333')
label(136, 1111, 'Proportion anti. strand small RNA', fontsize=10)
label(10, 990, 'Mean log$_{2}$ FNA RPKM +1', rotation=90, fontsize=9.8)
label(123, 905, 'R$^{2}$ 0.32', ha='left', fontsize=10.5)
label(123, 922, 'p. value <2.2e-16', ha='left')

fig.savefig('out.png', dpi=100)
plt.close(fig)
